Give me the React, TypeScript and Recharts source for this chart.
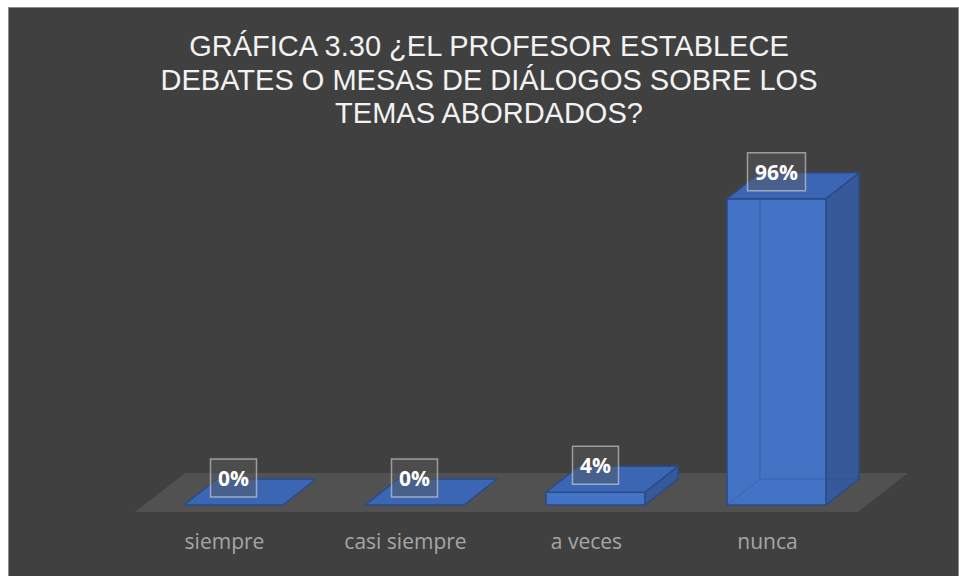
import { BarChart, Bar, XAxis, YAxis, LabelList } from "recharts";

const categories = ["siempre", "casi siempre", "a veces", "nunca"];
const percentages = [0, 0, 4, 96];
const titleLines = [
  "GRÁFICA 3.30 ¿EL PROFESOR ESTABLECE",
  "DEBATES O MESAS DE DIÁLOGOS SOBRE LOS",
  "TEMAS ABORDADOS?",
];

const data = categories.map((name, i) => ({ name, value: percentages[i] }));

const W = 951;
const H = 569;
const margin = { top: 179, right: 92, left: 135, bottom: 41 };
const axisHeight = 30;
const plotBottom = H - margin.bottom - axisHeight;
const plotRight = W - margin.right;

// depth of the 3d boxes
const DX = 33;
const DY = -26;

const FRONT = "#4472c4";
const TOP = "#3a66b4";
const SIDE = "#36599a";
const EDGE = "#2a4a86";

function Box3D(props: any) {
  const { x, y, width, height } = props;
  const w = width;
  const h = Math.max(height, 0);
  return (
    <g>
      {h > 0 && (
        <polygon
          points={`${x + w},${y} ${x + w + DX},${y + DY} ${x + w + DX},${y + h + DY} ${x + w},${y + h}`}
          fill={SIDE}
          stroke={EDGE}
          strokeWidth={1.5}
          strokeLinejoin="round"
        />
      )}
      {h > 0 && (
        <rect x={x} y={y} width={w} height={h} fill={FRONT} stroke={EDGE} strokeWidth={1.5} />
      )}
      {h > 20 && (
        <g stroke="rgba(40,70,130,0.35)" strokeWidth={1} fill="none">
          <line x1={x + DX} y1={y + DY} x2={x + DX} y2={y + h + DY} />
          <line x1={x + DX} y1={y + h + DY} x2={x + w + DX} y2={y + h + DY} />
          <line x1={x} y1={y + h} x2={x + DX} y2={y + h + DY} />
        </g>
      )}
      <polygon
        points={`${x},${y} ${x + DX},${y + DY} ${x + w + DX},${y + DY} ${x + w},${y}`}
        fill={TOP}
        stroke={EDGE}
        strokeWidth={1.5}
        strokeLinejoin="round"
      />
    </g>
  );
}

function ValueBox(props: any) {
  const { x, y, width, value } = props;
  const text = `${value}%`;
  const bw = 46 + (text.length - 2) * 12;
  const bh = 38;
  const cx = x + width / 2;
  const cy = y - 27;
  return (
    <g>
      <rect
        x={cx - bw / 2}
        y={cy - bh / 2}
        width={bw}
        height={bh}
        fill="rgba(90,90,90,0.45)"
        stroke="rgba(230,230,230,0.55)"
        strokeWidth={1.5}
      />
      <text
        x={cx}
        y={cy}
        textAnchor="middle"
        dominantBaseline="central"
        fill="#ffffff"
        fontFamily="'Open Sans', sans-serif"
        fontWeight={700}
        fontSize={21}
      >
        {text}
      </text>
    </g>
  );
}

function CategoryTick(props: any) {
  const { x, y, payload } = props;
  return (
    <text
      x={x - 9}
      y={y + 36}
      textAnchor="middle"
      fill="#a6a6a6"
      fontFamily="'Open Sans', sans-serif"
      fontSize={21}
    >
      {payload.value}
    </text>
  );
}

export default function App() {
  const floorFront = plotBottom + 7;
  const floorLeft = margin.left - 8;
  const floorRight = plotRight - 9;
  const fdx = 50;
  const fdy = -39;
  return (
    <div
      style={{
        position: "fixed",
        left: 8,
        top: 7,
        boxSizing: "border-box",
        width: W,
        height: H,
        background: "#404040",
        border: "1px solid #8a8a8a",
        borderBottom: "none",
      }}
    >
      <svg width={W} height={H} style={{ position: "absolute", left: -1, top: -1 }}>
        {titleLines.map((line, i) => (
          <text
            key={i}
            x={481}
            y={49 + i * 33.5}
            textAnchor="middle"
            fill="#f2f2f2"
            fontFamily="'Liberation Sans', Arial, sans-serif"
            fontSize={29}
          >
            {line}
          </text>
        ))}
        <polygon
          points={`${floorLeft},${floorFront} ${floorRight},${floorFront} ${floorRight + fdx},${floorFront + fdy} ${floorLeft + fdx},${floorFront + fdy}`}
          fill="#525151"
        />
      </svg>
      <div style={{ position: "absolute", left: -1, top: -1 }}>
        <BarChart width={W} height={H} data={data} margin={margin} barSize={99}>
          <XAxis
            dataKey="name"
            axisLine={false}
            tickLine={false}
            height={axisHeight}
            tick={<CategoryTick />}
            interval={0}
          />
          <YAxis hide domain={[0, 100]} />
          <Bar dataKey="value" shape={<Box3D />} isAnimationActive={false}>
            <LabelList dataKey="value" content={<ValueBox />} />
          </Bar>
        </BarChart>
      </div>
    </div>
  );
}
